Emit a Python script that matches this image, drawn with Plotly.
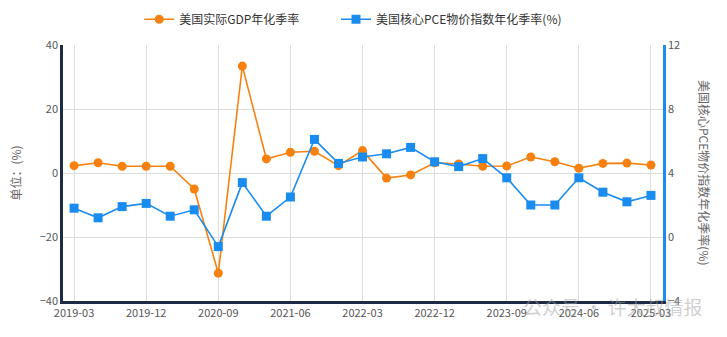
import plotly.graph_objects as go

quarters = [
    "2019-03", "2019-06", "2019-09", "2019-12",
    "2020-03", "2020-06", "2020-09", "2020-12",
    "2021-03", "2021-06", "2021-09", "2021-12",
    "2022-03", "2022-06", "2022-09", "2022-12",
    "2023-03", "2023-06", "2023-09", "2023-12",
    "2024-03", "2024-06", "2024-09", "2024-12",
    "2025-03",
]
gdp_rate = [
    2.3, 3.2, 2.1, 2.1, 2.1, -5.0, -31.3, 33.4,
    4.4, 6.5, 6.8, 2.3, 7.0, -1.6, -0.6, 3.2,
    2.8, 2.1, 2.2, 5.0, 3.5, 1.5, 3.0, 3.1, 2.5,
]
core_pce_rate = [
    1.8, 1.2, 1.9, 2.1, 1.3, 1.7, -0.6, 3.4,
    1.3, 2.5, 6.1, 4.6, 5.0, 5.2, 5.6, 4.7,
    4.4, 4.9, 3.7, 2.0, 2.0, 3.7, 2.8, 2.2, 2.6,
]
tick_labels = quarters[::3]

ORANGE = "#f7810f"
BLUE = "#1a8cf0"
NAVY = "#1f2a44"
GRID = "#dcdcdc"
TICK = "#555555"
FONT = "Noto Sans CJK SC"

fig = go.Figure()
fig.add_trace(go.Scatter(
    x=quarters, y=gdp_rate, name="美国实际GDP年化季率",
    mode="lines+markers",
    line=dict(color=ORANGE, width=1.6),
    marker=dict(symbol="circle", size=9, color=ORANGE),
    yaxis="y", legend="legend",
))
fig.add_trace(go.Scatter(
    x=quarters, y=core_pce_rate, name="美国核心PCE物价指数年化季率(%)",
    mode="lines+markers",
    line=dict(color=BLUE, width=1.6),
    marker=dict(symbol="square", size=9, color=BLUE),
    yaxis="y2", legend="legend2",
))

legend_style = dict(
    orientation="h", xanchor="left", y=0.9, yanchor="bottom",
    yref="container", font=dict(size=12, color="#333333"), itemwidth=30,
)

fig.update_layout(
    width=727, height=337,
    margin=dict(l=63, r=64, t=45, b=36, autoexpand=False),
    paper_bgcolor="white", plot_bgcolor="white",
    font=dict(family=FONT, size=11, color=TICK),
    showlegend=True,
    legend=dict(x=0.127, **legend_style),
    legend2=dict(x=0.455, **legend_style),
    xaxis=dict(
        type="category", tickmode="array", tickvals=tick_labels, ticktext=tick_labels,
        range=[-0.46, 24.5], showgrid=True, gridcolor=GRID, gridwidth=1,
        showline=True, linecolor=NAVY, linewidth=2.5, ticks="",
        tickfont=dict(size=11, color=TICK), zeroline=False,
    ),
    yaxis=dict(
        range=[-40, 40], tickvals=[-40, -20, 0, 20, 40],
        showgrid=True, gridcolor=GRID, gridwidth=1,
        showline=True, linecolor=NAVY, linewidth=2.5, zeroline=False,
        ticks="", tickfont=dict(size=11, color=TICK),
        title=dict(text="单位：(%)", font=dict(size=12, color="#666666"), standoff=16),
    ),
    yaxis2=dict(
        range=[-4, 12], tickvals=[-4, 0, 4, 8, 12], overlaying="y", side="right",
        showgrid=False, showline=True, linecolor=BLUE, linewidth=2.5,
        zeroline=False, ticks="", tickfont=dict(size=11, color=TICK),
    ),
)

fig.add_annotation(
    text="美国核心PCE物价指数年化季率(%)", textangle=90,
    xref="paper", yref="paper", x=1.0, y=0.5, xshift=42,
    xanchor="center", yanchor="middle", showarrow=False,
    font=dict(size=12, color="#666666"),
)
# faint account watermark in the lower right corner
fig.add_annotation(
    text="公众号 · 许大叔情报",
    xref="paper", yref="paper", x=1.07, y=-0.02, xanchor="right", yanchor="middle",
    showarrow=False, font=dict(size=19, color="rgba(160,160,160,0.5)"),
)

fig.write_html("out.html")
